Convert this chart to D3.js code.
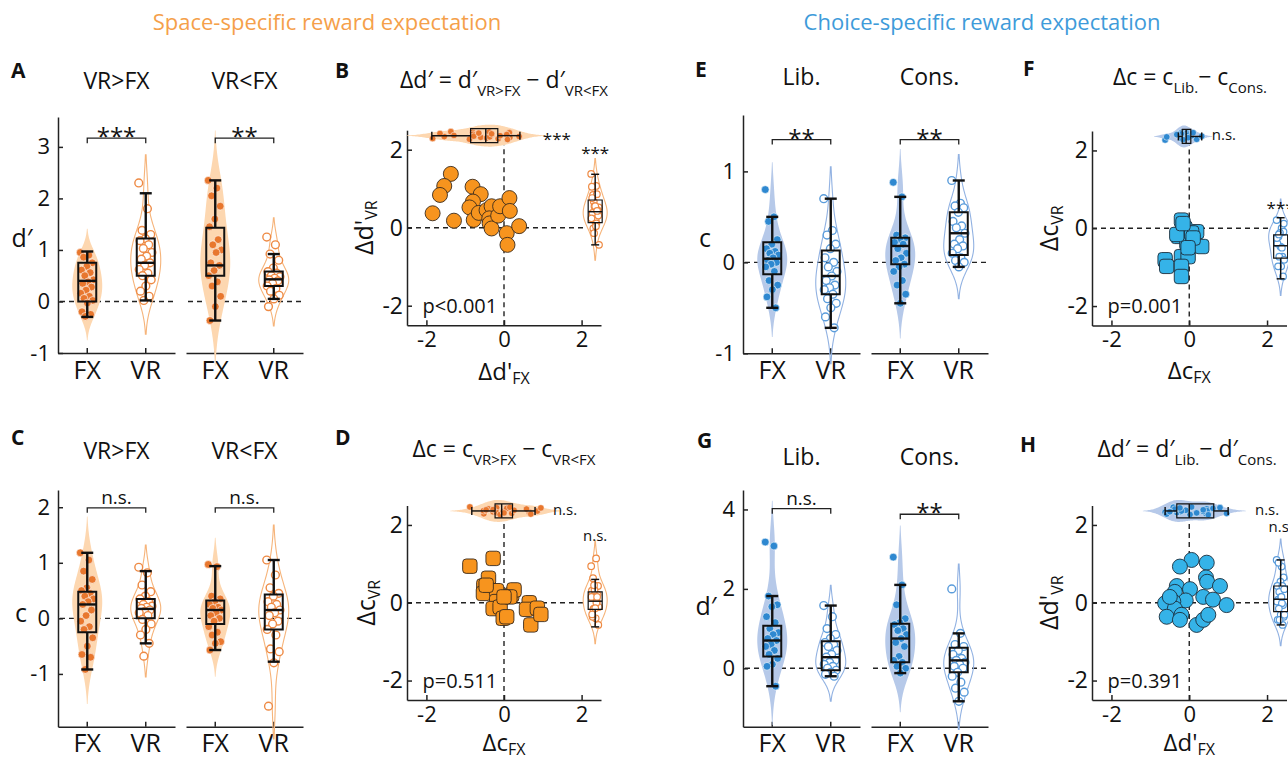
<!DOCTYPE html>
<html>
<head>
<meta charset="utf-8">
<script src="https://cdn.jsdelivr.net/npm/d3@7"></script>
<style>
  body { margin: 0; background: #fff; }
  svg { display: block; }
</style>
</head>
<body>
<svg id="fig" width="1288" height="759"></svg>
<script>
"use strict";

// ---- data ----
const cats = ["FX", "VR"];

// A: d' (VR>FX subjects, VR<FX subjects)
const aGtFx = [0.95, 0.9, 0.86, 0.75, 0.68, 0.61, 0.56, 0.5, 0.42, 0.38, 0.35, 0.28, 0.22, 0.16, 0.1, 0.06, 0.02, -0.03, -0.2, -0.25, -0.29];
const aGtVr = [2.3, 1.8, 1.38, 1.3, 1.22, 1.18, 1.1, 1.03, 0.95, 0.88, 0.82, 0.75, 0.7, 0.62, 0.55, 0.5, 0.42, 0.3, 0.2, 0.1, 0.02];
const aLtFx = [2.35, 2.2, 2.05, 1.85, 1.6, 1.45, 1.2, 1.1, 1.0, 0.95, 0.75, 0.7, 0.6, 0.5, 0.38, 0.3, 0.1, -0.1, -0.37];
const aLtVr = [1.25, 1.1, 0.92, 0.8, 0.65, 0.58, 0.55, 0.5, 0.48, 0.45, 0.42, 0.4, 0.35, 0.3, 0.25, 0.2, 0.12, 0.05, -0.1];
// box stats: [low whisker, q1, median, q3, high whisker]
const aBoxes = [[-0.3, 0, 0.4, 0.75, 0.97], [0.02, 0.5, 0.75, 1.22, 2.1], [-0.37, 0.5, 0.7, 1.43, 2.35], [0.05, 0.3, 0.43, 0.58, 0.92]];

// C: c
const cGtFx = [1.18, 1.05, 0.85, 0.7, 0.55, 0.5, 0.45, 0.4, 0.35, 0.3, 0.25, 0.15, 0.05, -0.05, -0.15, -0.2, -0.35, -0.5, -0.65, -0.7, -0.92];
const cGtVr = [0.92, 0.82, 0.6, 0.48, 0.4, 0.35, 0.3, 0.25, 0.22, 0.2, 0.18, 0.15, 0.12, 0.1, 0.05, -0.02, -0.1, -0.2, -0.3, -0.45, -0.68];
const cLtFx = [0.97, 0.93, 0.4, 0.35, 0.3, 0.25, 0.2, 0.18, 0.15, 0.1, 0.05, 0, -0.05, -0.15, -0.25, -0.3, -0.42, -0.45, -0.57];
const cLtVr = [1.05, 0.78, 0.55, 0.45, 0.4, 0.3, 0.25, 0.2, 0.15, 0.1, 0.05, -0.05, -0.1, -0.2, -0.3, -0.55, -0.6, -0.8, -1.58];
const cBoxes = [[-0.92, -0.25, 0.25, 0.48, 1.18], [-0.45, 0, 0.17, 0.35, 0.85], [-0.57, -0.1, 0.15, 0.32, 0.94], [-0.78, -0.2, 0.15, 0.43, 1.05]];

// E: c (liberal, conservative)
const eLibFx = [0.8, 0.5, 0.45, 0.25, 0.2, 0.15, 0.12, 0.1, 0.08, 0.05, 0.02, 0, -0.02, -0.05, -0.1, -0.2, -0.25, -0.3, -0.38, -0.5];
const eLibVr = [0.7, 0.35, 0.3, 0.2, 0.15, 0.05, 0, -0.05, -0.1, -0.15, -0.2, -0.25, -0.28, -0.3, -0.35, -0.4, -0.45, -0.5, -0.6, -0.72];
const eConsFx = [0.88, 0.72, 0.3, 0.27, 0.25, 0.22, 0.2, 0.15, 0.1, 0.05, 0.02, -0.02, -0.05, -0.1, -0.2, -0.25, -0.35, -0.45];
const eConsVr = [0.9, 0.65, 0.62, 0.6, 0.55, 0.45, 0.4, 0.38, 0.32, 0.25, 0.2, 0.18, 0.15, 0.1, 0.05, 0.02, 0, -0.05];
const eBoxes = [[-0.5, -0.13, 0.04, 0.22, 0.5], [-0.72, -0.35, -0.15, 0.13, 0.7], [-0.45, -0.02, 0.18, 0.27, 0.72], [-0.05, 0.08, 0.32, 0.55, 0.9]];

// G: d' (liberal, conservative)
const gLibFx = [3.18, 3.08, 1.82, 1.6, 1.55, 1.3, 1.15, 1.0, 0.9, 0.85, 0.75, 0.7, 0.6, 0.55, 0.45, 0.35, 0.25, 0.1, 0.05, -0.45];
const gLibVr = [1.58, 1.3, 1.0, 0.85, 0.75, 0.65, 0.6, 0.55, 0.45, 0.35, 0.28, 0.2, 0.15, 0.1, 0.05, 0, -0.05, -0.1, -0.15, -0.2];
const gConsFx = [2.8, 2.1, 1.6, 1.25, 1.15, 1.1, 1.0, 0.95, 0.85, 0.75, 0.65, 0.55, 0.3, 0.2, 0.15, 0.05, 0, -0.12];
const gConsVr = [2.0, 0.88, 0.6, 0.55, 0.45, 0.35, 0.25, 0.2, 0.15, 0.1, 0.05, 0, -0.1, -0.2, -0.35, -0.5, -0.6, -0.83];
const gBoxes = [[-0.45, 0.3, 0.7, 1.07, 1.82], [-0.2, -0.05, 0.28, 0.68, 1.58], [-0.12, 0.15, 0.75, 1.12, 2.1], [-0.83, -0.1, 0.2, 0.52, 0.88]];

// B: delta d' per subject (FX, VR)
const bFx = [-1.37, -1.54, -1.65, -1.84, -1.29, -0.81, -0.6, -0.8, -0.89, -0.78, -0.65, -0.45, -0.32, -0.38, -0.37, -0.32, -0.15, -0.1, 0.14, 0.15, 0.07, 0.09, 0.39];
const bVr = [1.38, 1.07, 0.84, 0.37, 0.18, 1.05, 0.86, 0.67, 0.52, 0.2, 0.38, 0.45, 0.55, 0.24, 0.11, -0.02, 0.31, 0.55, 0.76, 0.43, -0.14, -0.44, 0.04];
const bTopBox = [-1.86, -0.86, -0.47, -0.16, 0.41];
const bRightBox = [-0.44, 0.13, 0.41, 0.71, 1.37];

// D: delta c per subject
const dFx = [-0.88, -0.28, -0.4, -0.52, -0.53, -0.19, -0.19, -0.28, -0.1, -0.02, 0.07, 0.2, 0.26, 0.15, 0.65, 0.58, 0.69, 0.86, 0.95, 0.0, -0.46];
const dVr = [0.94, 1.14, 0.63, 0.43, 0.24, 0.31, 0.03, -0.15, -0.11, -0.4, -0.36, 0.21, 0.33, 0.15, 0.0, -0.17, -0.57, -0.14, -0.3, 0.15, 0.45];
const dTopBox = [-0.83, -0.23, -0.06, 0.22, 0.8];
const dRightBox = [-0.62, -0.17, 0.04, 0.28, 0.6];

// F: delta c (lib - cons)
const fFx = [-0.2, -0.11, -0.28, 0.19, 0.32, -0.06, -0.2, -0.03, -0.62, -0.58, -0.2, -0.2, 0.06, 0.1, -0.03, -0.32, -0.16];
const fVr = [0.21, 0, -0.21, -0.09, -0.47, -0.39, -0.73, -0.73, -0.81, -0.98, -0.98, -1.24, -0.12, -0.25, -0.5, -0.16, 0.12];
const fTopBox = [-0.28, -0.18, -0.08, 0.04, 0.32];
const fRightBox = [-1.3, -0.77, -0.45, -0.17, 0.27];

// H: delta d' (lib - cons)
const hFx = [0.06, -0.24, 0.45, 0.43, 0.46, 0.79, -0.32, -0.37, 0.02, 0.36, 0.61, 0.96, -0.09, -0.41, -0.62, -0.37, -0.58, -0.2, -0.24, 0.19, 0.36, 0.49, -0.5];
const hVr = [1.1, 0.93, 1.03, 0.65, 0.54, 0.43, 0.43, 0.28, 0.35, 0.15, 0.08, -0.06, 0.06, 0.03, -0.01, -0.15, -0.36, -0.31, -0.44, -0.57, -0.44, -0.31, 0.15];
const hTopBox = [-0.62, -0.32, 0, 0.63, 1.0];
const hRightBox = [-0.57, -0.23, 0.09, 0.43, 1.1];

// ---- styling ----
const FONT = '"Open Sans", "Noto Sans", sans-serif';
const orange = { dot: "#E8772E", violin: "#FDD7B0", line: "#F6B47A", open: "#EE8A44", marker: "#F7941E", title: "#F5A04A", edge: "#3a2a1c" };
const blue = { dot: "#2E88D0", violin: "#B6C9E9", line: "#92B2E2", open: "#5A9CDB", marker: "#35B3E8", title: "#3E9BDA", edge: "#1c2e3c" };

const svg = d3.select("#fig").attr("font-family", FONT);

// golden-ratio jitter so the dots spread out without randomness
const jitter = (i, amp) => (((i * 0.6180339887) % 1) - 0.5) * 2 * amp;

function kdeProfile(values) {
  const n = values.length;
  const h = 1.06 * d3.deviation(values) * Math.pow(n, -0.2);
  const lo = d3.min(values) - 3 * h;
  const hi = d3.max(values) + 3 * h;
  let dens = d3.range(0, 121).map((i) => {
    const g = lo + ((hi - lo) * i) / 120;
    return [g, d3.mean(values, (v) => Math.exp(-0.5 * ((g - v) / h) ** 2))];
  });
  const mx = d3.max(dens, (d) => d[1]);
  dens = dens.filter((d) => d[1] > 0.02 * mx);
  return dens.map((d) => [d[0], d[1] / mx]);
}

function styleAxis(sel, size) {
  sel.attr("font-family", FONT);
  sel.selectAll("path, line").attr("stroke", "#222").attr("stroke-width", 1.5);
  sel.selectAll("text").attr("font-size", size).attr("fill", "#111");
}

// s = [lo, q1, med, q3, hi]; orient "v" draws a vertical box at cross position c
function drawBox(g, s, scale, c, orient, half, cap, sw) {
  const [lo, q1, med, q3, hi] = s.map(scale);
  const P = orient === "v" ? (a, b) => [a, b] : (a, b) => [b, a];
  const line = d3.line();
  g.append("path")
    .attr("d", line([P(c - half, q1), P(c + half, q1), P(c + half, q3), P(c - half, q3)]) + "Z")
    .attr("fill", "none").attr("stroke", "#111").attr("stroke-width", sw);
  const segs = [
    [P(c - half, med), P(c + half, med)],
    [P(c, q3), P(c, hi)],
    [P(c, q1), P(c, lo)],
    [P(c - cap, hi), P(c + cap, hi)],
    [P(c - cap, lo), P(c + cap, lo)],
  ];
  segs.forEach((sg) => g.append("path").attr("d", line(sg)).attr("stroke", "#111").attr("stroke-width", sw * 1.2).attr("fill", "none"));
}

function richText(parent, x, y, parts, size, subSize, anchor, rotate, shiftEm) {
  const t = parent.append("text").attr("x", x).attr("y", y)
    .attr("font-size", size).attr("text-anchor", anchor || "middle").attr("fill", "#111");
  if (rotate) t.attr("transform", `rotate(-90, ${x}, ${y})`);
  const shift = size * (shiftEm || 0.33);
  let down = false;
  parts.forEach(([txt, sub]) => {
    const ts = t.append("tspan").text(txt);
    if (sub) {
      ts.attr("font-size", subSize);
      if (!down) { ts.attr("dy", shift); down = true; }
    } else if (down) {
      ts.attr("dy", -shift); down = false;
    }
  });
  return t;
}

function letter(txt, x, y) {
  svg.append("text").attr("x", x).attr("y", y).attr("font-size", 21).attr("font-weight", 700).attr("fill", "#111").text(txt);
}

function violinPanel(o) {
  const y = d3.scaleLinear().domain(o.yDomain).range(o.yRange);
  const g = svg.append("g");

  const yAxis = g.append("g").attr("transform", `translate(${o.groups[0][0]},0)`)
    .call(d3.axisLeft(y).tickValues(o.yTicks).tickFormat(String).tickSizeInner(-5).tickSizeOuter(0).tickPadding(8));
  styleAxis(yAxis, 22);

  o.groups.forEach((range, gi) => {
    const x = d3.scaleBand().domain(cats).range(range);
    const bw = x.bandwidth();
    const xAxis = g.append("g").attr("transform", `translate(0,${o.yRange[0]})`)
      .call(d3.axisBottom(x).tickSizeInner(-5).tickSizeOuter(0).tickPadding(8));
    styleAxis(xAxis, 25);

    g.append("line")
      .attr("x1", range[0] + 2).attr("x2", range[1])
      .attr("y1", y(0)).attr("y2", y(0))
      .attr("stroke", "#222").attr("stroke-width", 1.4).attr("stroke-dasharray", "5,4");

    g.append("text").attr("x", (range[0] + range[1]) / 2).attr("y", o.subtitleY)
      .attr("text-anchor", "middle").attr("font-size", 23).attr("fill", "#111").text(o.subtitles[gi]);

    cats.forEach((cat, ci) => {
      const k = gi * 2 + ci;
      const vals = o.series[k];
      const cx = x(cat) + bw / 2;
      const open = cat === "VR";

      g.append("path").datum(kdeProfile(vals))
        .attr("d", d3.area().curve(d3.curveBasis)
          .y((d) => y(d[0])).x0((d) => cx - d[1] * 15).x1((d) => cx + d[1] * 15))
        .attr("fill", open ? "none" : o.pal.violin)
        .attr("stroke", open ? o.pal.line : "none").attr("stroke-width", 1.1);

      g.append("g").selectAll("circle").data(vals).join("circle")
        .attr("cx", (d, i) => cx + jitter(i, 7))
        .attr("cy", (d) => y(d))
        .attr("r", 3.9)
        .attr("fill", open ? "#fff" : o.pal.dot)
        .attr("stroke", open ? o.pal.open : "#fff")
        .attr("stroke-width", open ? 1.4 : 0.6);

      drawBox(g, o.boxes[k], y, cx, "v", 9, 6, 2);
    });

    const [bv, lab] = o.brackets[gi];
    const x1 = x("FX") + bw / 2;
    const x2 = x("VR") + bw / 2;
    const yb = y(bv);
    g.append("path").attr("d", `M${x1},${yb + 5}V${yb}H${x2}V${yb + 5}`)
      .attr("fill", "none").attr("stroke", "#222").attr("stroke-width", 1.3);
    const stars = lab !== "n.s.";
    g.append("text").attr("x", (x1 + x2) / 2).attr("y", stars ? yb + 7 : yb - 4)
      .attr("text-anchor", "middle").attr("font-size", stars ? 24 : 19).attr("fill", "#111").text(lab);
  });

  g.append("text").attr("x", o.ylabel[1]).attr("y", o.ylabel[2])
    .attr("text-anchor", "middle").attr("font-size", 25).attr("fill", "#111").text(o.ylabel[0]);
}

function scatterPanel(o) {
  const x = d3.scaleLinear().domain([-2.5, 2.5]).range(o.xRange);
  const y = d3.scaleLinear().domain([-2.5, 2.5]).range(o.yRange);
  const ticks = [-2, 0, 2];
  const g = svg.append("g");

  const yAxis = g.append("g").attr("transform", `translate(${o.xRange[0]},0)`)
    .call(d3.axisLeft(y).tickValues(ticks).tickFormat(String).tickSizeInner(-5).tickSizeOuter(0).tickPadding(4));
  styleAxis(yAxis, 23);
  const xAxis = g.append("g").attr("transform", `translate(0,${o.yRange[0]})`)
    .call(d3.axisBottom(x).tickValues(ticks).tickFormat(String).tickSizeInner(-5).tickSizeOuter(0).tickPadding(6));
  styleAxis(xAxis, 22);

  const dash = (x1, y1, x2, y2) => g.append("line")
    .attr("x1", x1).attr("y1", y1).attr("x2", x2).attr("y2", y2)
    .attr("stroke", "#222").attr("stroke-width", 1.4).attr("stroke-dasharray", "5,4");
  dash(x(0), y(-2.5), x(0), y(2.5));
  dash(x(-2.5), y(0), x(2.05), y(0));

  const pts = o.xs.map((v, i) => [v, o.ys[i]]);
  if (o.marker === "circle") {
    g.append("g").selectAll("circle").data(pts).join("circle")
      .attr("cx", (d) => x(d[0])).attr("cy", (d) => y(d[1])).attr("r", 7.5)
      .attr("fill", o.pal.marker).attr("stroke", o.pal.edge).attr("stroke-width", 0.9);
  } else {
    g.append("g").selectAll("rect").data(pts).join("rect")
      .attr("x", (d) => x(d[0]) - 7.2).attr("y", (d) => y(d[1]) - 7.2)
      .attr("width", 14.4).attr("height", 14.4).attr("rx", 3.5)
      .attr("fill", o.pal.marker).attr("stroke", o.pal.edge).attr("stroke-width", 0.9);
  }

  // top marginal (FX values)
  const yc = y(2.36);
  g.append("path").datum(kdeProfile(o.xs))
    .attr("d", d3.area().curve(d3.curveBasis)
      .x((d) => x(d[0])).y0((d) => yc - d[1] * 11).y1((d) => yc + d[1] * 11))
    .attr("fill", o.pal.violin);
  g.append("g").selectAll("circle").data(o.xs).join("circle")
    .attr("cx", (d) => x(d)).attr("cy", (d, i) => yc + jitter(i, 4)).attr("r", 3.3)
    .attr("fill", o.pal.dot).attr("stroke", "#fff").attr("stroke-width", 0.5);
  drawBox(g, o.topBox, x, yc, "h", 7, 4, 1.2);

  // right marginal (VR values)
  const xc = x(2.35);
  g.append("path").datum(kdeProfile(o.ys))
    .attr("d", d3.area().curve(d3.curveBasis)
      .y((d) => y(d[0])).x0((d) => xc - d[1] * 12).x1((d) => xc + d[1] * 12))
    .attr("fill", "none").attr("stroke", o.pal.line).attr("stroke-width", 1.1);
  g.append("g").selectAll("circle").data(o.ys).join("circle")
    .attr("cx", (d, i) => xc + jitter(i, 4)).attr("cy", (d) => y(d)).attr("r", 3.3)
    .attr("fill", "#fff").attr("stroke", o.pal.open).attr("stroke-width", 1.2);
  drawBox(g, o.rightBox, y, xc, "v", 7, 4, 1.2);

  const sig = (txt, px, py, anchor) => {
    const stars = txt !== "n.s.";
    g.append("text").attr("x", px).attr("y", py + (stars ? 9 : 4))
      .attr("text-anchor", anchor).attr("font-size", stars ? 17 : 15).attr("fill", "#111").text(txt);
  };
  sig(o.topSig, x(o.topSigAt), yc, "start");
  sig(o.rightSig, xc, y(o.rightSigAt), "middle");

  g.append("text").attr("x", x(-2.1)).attr("y", y(-2.0) + 7)
    .attr("font-size", 20).attr("fill", "#111").text(o.p);

  richText(g, o.title[0], o.title[1], o.title[2], 23, 15, "middle");
  richText(g, (o.xRange[0] + o.xRange[1]) / 2, o.xlabel[0], o.xlabel[1], 24, 16, "middle", false, 0.18);
  richText(g, o.ylabel[0], (o.yRange[0] + o.yRange[1]) / 2, o.ylabel[1], 25, 16, "middle", true, 0.18);
}

// ---- headings ----
svg.append("text").attr("x", 327).attr("y", 30).attr("text-anchor", "middle")
  .attr("font-size", 22).attr("fill", orange.title).text("Space-specific reward expectation");
svg.append("text").attr("x", 982).attr("y", 30).attr("text-anchor", "middle")
  .attr("font-size", 22).attr("fill", blue.title).text("Choice-specific reward expectation");

letter("A", 11, 78); letter("B", 335, 78); letter("C", 11, 445); letter("D", 335, 445);
letter("E", 695, 77); letter("F", 1023, 76); letter("G", 697, 448); letter("H", 1020, 452);

violinPanel({
  groups: [[58, 175], [186, 303]], yRange: [353, 117], yDomain: [-1, 3.58], yTicks: [-1, 0, 1, 2, 3],
  series: [aGtFx, aGtVr, aLtFx, aLtVr], boxes: aBoxes, pal: orange,
  brackets: [[3.17, "***"], [3.17, "**"]], subtitles: ["VR>FX", "VR<FX"], subtitleY: 89,
  ylabel: ["d\u2032", 22, 247],
});
violinPanel({
  groups: [[58, 175], [186, 303]], yRange: [726.7, 490], yDomain: [-1.95, 2.31], yTicks: [-1, 0, 1, 2],
  series: [cGtFx, cGtVr, cLtFx, cLtVr], boxes: cBoxes, pal: orange,
  brackets: [[1.99, "n.s."], [1.99, "n.s."]], subtitles: ["VR>FX", "VR<FX"], subtitleY: 459,
  ylabel: ["c", 21, 622],
});
violinPanel({
  groups: [[743, 860], [871, 988]], yRange: [353.3, 115], yDomain: [-1, 1.62], yTicks: [-1, 0, 1],
  series: [eLibFx, eLibVr, eConsFx, eConsVr], boxes: eBoxes, pal: blue,
  brackets: [[1.35, "**"], [1.35, "**"]], subtitles: ["Lib.", "Cons."], subtitleY: 85,
  ylabel: ["c", 705, 247],
});
violinPanel({
  groups: [[743, 860], [871, 988]], yRange: [726.7, 490], yDomain: [-1.47, 4.49], yTicks: [0, 2, 4],
  series: [gLibFx, gLibVr, gConsFx, gConsVr], boxes: gBoxes, pal: blue,
  brackets: [[4.02, "n.s."], [3.88, "**"]], subtitles: ["Lib.", "Cons."], subtitleY: 465,
  ylabel: ["d\u2032", 706, 615],
});

scatterPanel({
  xRange: [407, 601], yRange: [325.2, 130.2], xs: bFx, ys: bVr, topBox: bTopBox, rightBox: bRightBox,
  marker: "circle", pal: orange, topSig: "***", topSigAt: 1.0, rightSig: "***", rightSigAt: 2.0, p: "p<0.001",
  title: [504, 88, [["\u0394d\u2032 = d\u2032"], ["VR>FX", 1], [" \u2212 d\u2032"], ["VR<FX", 1]]],
  xlabel: [380, [["\u0394d'"], ["FX", 1]]], ylabel: [373, [["\u0394d'"], ["VR", 1]]],
});
scatterPanel({
  xRange: [407, 601], yRange: [700, 505.5], xs: dFx, ys: dVr, topBox: dTopBox, rightBox: dRightBox,
  marker: "square", pal: orange, topSig: "n.s.", topSigAt: 1.26, rightSig: "n.s.", rightSigAt: 1.7, p: "p=0.511",
  title: [504, 457, [["\u0394c = c"], ["VR>FX", 1], [" \u2212 c"], ["VR<FX", 1]]],
  xlabel: [751, [["\u0394c"], ["FX", 1]]], ylabel: [375, [["\u0394c"], ["VR", 1]]],
});
scatterPanel({
  xRange: [1092, 1286.5], yRange: [325.5, 131], xs: fFx, ys: fVr, topBox: fTopBox, rightBox: fRightBox,
  marker: "square", pal: blue, topSig: "n.s.", topSigAt: 0.58, rightSig: "***", rightSigAt: 0.6, p: "p=0.001",
  title: [1190, 85, [["\u0394c = c"], ["Lib.", 1], ["\u2212 c"], ["Cons.", 1]]],
  xlabel: [379, [["\u0394c"], ["FX", 1]]], ylabel: [1058, [["\u0394c"], ["VR", 1]]],
});
scatterPanel({
  xRange: [1092, 1286.5], yRange: [700, 505.5], xs: hFx, ys: hVr, topBox: hTopBox, rightBox: hRightBox,
  marker: "circle", pal: blue, topSig: "n.s.", topSigAt: 1.69, rightSig: "n.s.", rightSigAt: 1.93, p: "p=0.391",
  title: [1187, 457, [["\u0394d\u2032 = d\u2032"], ["Lib.", 1], ["\u2212 d\u2032"], ["Cons.", 1]]],
  xlabel: [751, [["\u0394d'"], ["FX", 1]]], ylabel: [1058, [["\u0394d'"], ["VR", 1]]],
});
</script>
</body>
</html>
